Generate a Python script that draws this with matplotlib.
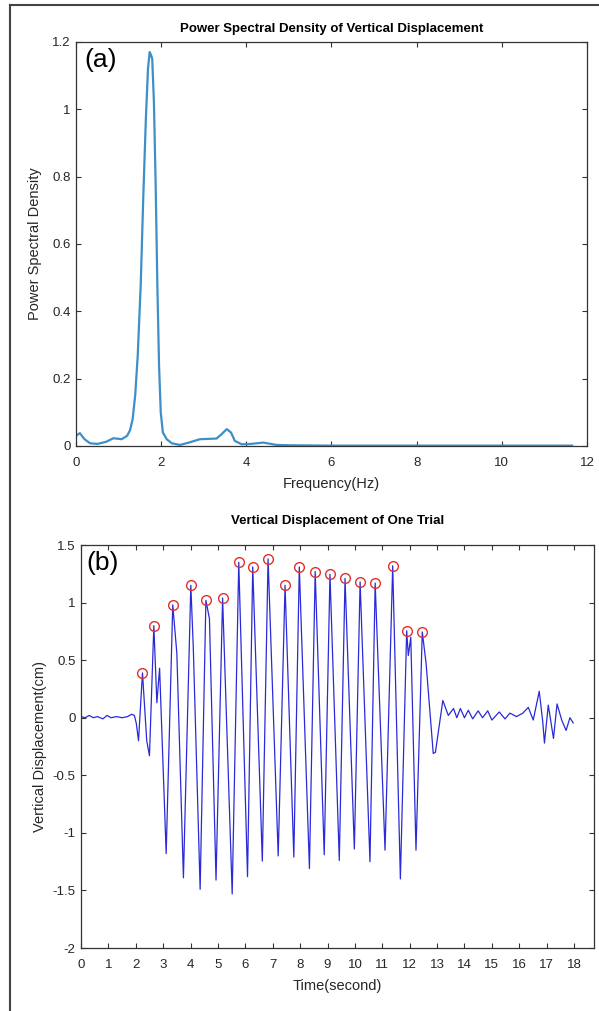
import numpy as np
import matplotlib
matplotlib.use("Agg")
import matplotlib.pyplot as plt
from matplotlib.lines import Line2D

plt.rcParams['font.family'] = ['Liberation Sans', 'DejaVu Sans']

# (a) power spectral density
freq = [0.0, 0.09, 0.2, 0.33, 0.5, 0.7, 0.88, 1.07, 1.2, 1.27, 1.33, 1.39, 1.45, 1.52,
        1.58, 1.64, 1.69, 1.73, 1.765, 1.79, 1.83, 1.87, 1.91, 1.95, 1.99, 2.04, 2.13,
        2.25, 2.44, 2.65, 2.91, 3.1, 3.3, 3.42, 3.54, 3.64, 3.73, 3.89, 4.1, 4.4, 4.71,
        5.0, 6.0, 8.0, 10.0, 11.65]
psd = [0.03, 0.038, 0.02, 0.008, 0.006, 0.012, 0.023, 0.02, 0.03, 0.047, 0.08, 0.15,
       0.27, 0.48, 0.74, 0.97, 1.12, 1.17, 1.16, 1.15, 1.02, 0.78, 0.48, 0.24, 0.1,
       0.04, 0.02, 0.008, 0.003, 0.01, 0.02, 0.021, 0.022, 0.035, 0.05, 0.04, 0.015,
       0.005, 0.006, 0.01, 0.003, 0.002, 0.001, 0.001, 0.001, 0.001]

# (b) vertical displacement: detected peaks (red circles)
peak_t = [2.245, 2.66, 3.35, 4.01, 4.56, 5.17, 5.76, 6.27, 6.83, 7.45, 7.97, 8.55,
          9.09, 9.64, 10.19, 10.74, 11.38, 11.89, 12.46]
peak_v = [0.39, 0.80, 0.98, 1.15, 1.02, 1.04, 1.35, 1.31, 1.38, 1.15, 1.31, 1.27,
          1.245, 1.21, 1.18, 1.17, 1.32, 0.755, 0.745]

# troughs between the peaks
trough_t = [2.1, 2.4, 2.5, 3.11, 3.74, 4.35, 4.93, 5.52, 6.08, 6.62, 7.2, 7.77, 8.34,
            8.88, 9.43, 9.98, 10.55, 11.1, 11.66, 12.23, 12.86, 12.94]
trough_v = [-0.2, -0.2, -0.33, -1.18, -1.39, -1.49, -1.41, -1.53, -1.38, -1.245, -1.2,
            -1.21, -1.31, -1.19, -1.24, -1.14, -1.25, -1.15, -1.40, -1.15, -0.31, -0.3]

# quiet parts, shoulders and after-trial ripples
other_t = [0.0, 0.15, 0.3, 0.45, 0.6, 0.8, 0.95, 1.1, 1.3, 1.5, 1.7, 1.85, 1.95, 2.02,
           2.77, 2.87, 3.5, 4.1, 4.69, 11.95, 12.04, 12.6,
           13.21, 13.41, 13.6, 13.72, 13.85, 14.0, 14.14, 14.3, 14.5, 14.66, 14.85,
           15.0, 15.27, 15.48, 15.66, 15.9, 16.13, 16.33, 16.51, 16.73, 16.86, 16.92,
           17.06, 17.25, 17.38, 17.55, 17.71, 17.85, 17.97]
other_v = [0.01, 0.0, 0.02, 0.0, 0.01, -0.01, 0.02, 0.0, 0.01, 0.0, 0.01, 0.03, 0.02,
           -0.05, 0.13, 0.43, 0.56, 0.61, 0.86, 0.54, 0.70, 0.47,
           0.15, 0.02, 0.08, 0.0, 0.08, 0.0, 0.065, -0.01, 0.06, 0.0, 0.06,
           -0.02, 0.05, -0.01, 0.04, 0.01, 0.04, 0.09, -0.02, 0.23, -0.04, -0.22,
           0.11, -0.18, 0.12, -0.02, -0.11, 0.0, -0.045]

sig_t = np.array(peak_t + trough_t + other_t)
sig_v = np.array(peak_v + trough_v + other_v)
order = np.argsort(sig_t)
sig_t, sig_v = sig_t[order], sig_v[order]

txt = '#262626'
fig = plt.figure(figsize=(5.99, 10.11), dpi=100)


def style_axes(ax):
    for s in ax.spines.values():
        s.set_color('#333333')
        s.set_linewidth(0.9)
    ax.tick_params(direction='in', top=True, right=True, length=3.5, width=0.8,
                   colors='#333333', labelcolor=txt, labelsize=9.5)
    ax.tick_params(axis='x', pad=8)
    ax.tick_params(axis='y', pad=4)


# top panel
ax1 = fig.add_axes([0.1269, 0.5589, 0.853, 0.3996])
ax1.plot(freq, psd, color='#3d8fc8', lw=1.6)
ax1.set_xlim(0, 12)
ax1.set_ylim(0, 1.2)
ax1.set_xticks(range(0, 13, 2))
ax1.set_yticks([0, 0.2, 0.4, 0.6, 0.8, 1, 1.2])
ax1.set_yticklabels(['0', '0.2', '0.4', '0.6', '0.8', '1', '1.2'])
style_axes(ax1)
ax1.set_title('Power Spectral Density of Vertical Displacement', fontsize=9.5,
              fontweight='bold', color='black', pad=7)
ax1.set_xlabel('Frequency(Hz)', fontsize=10.5, color=txt, labelpad=6)
ax1.set_ylabel('Power Spectral Density', fontsize=10.5, color=txt, labelpad=7)
ax1.text(0.016, 0.985, '(a)', transform=ax1.transAxes, fontsize=19,
         va='top', ha='left', color='black')

# bottom panel
ax2 = fig.add_axes([0.1352, 0.0623, 0.8565, 0.3986])
ax2.plot(sig_t, sig_v, color='#2a2ad8', lw=0.9)
ax2.plot(peak_t, peak_v, 'o', ms=7, mfc='none', mec='#e03030', mew=1.0)
ax2.set_xlim(0, 18.73)
ax2.set_ylim(-2, 1.5)
ax2.set_xticks(range(0, 19))
ax2.set_yticks([-2, -1.5, -1, -0.5, 0, 0.5, 1, 1.5])
ax2.set_yticklabels(['-2', '-1.5', '-1', '-0.5', '0', '0.5', '1', '1.5'])
style_axes(ax2)
ax2.set_title('Vertical Displacement of One Trial', fontsize=9.5,
              fontweight='bold', color='black', pad=15)
ax2.set_xlabel('Time(second)', fontsize=10.5, color=txt, labelpad=6)
ax2.set_ylabel('Vertical Displacement(cm)', fontsize=10.5, color=txt, labelpad=4)
ax2.text(0.01, 0.985, '(b)', transform=ax2.transAxes, fontsize=19,
         va='top', ha='left', color='black')

# outer frame of the figure
fig.add_artist(Line2D([10 / 599, 10 / 599], [0, 1 - 5 / 1011], color='#444444', lw=1.5))
fig.add_artist(Line2D([10 / 599, 1], [1 - 5 / 1011, 1 - 5 / 1011], color='#444444', lw=1.5))

fig.savefig('out.png', dpi=100)
